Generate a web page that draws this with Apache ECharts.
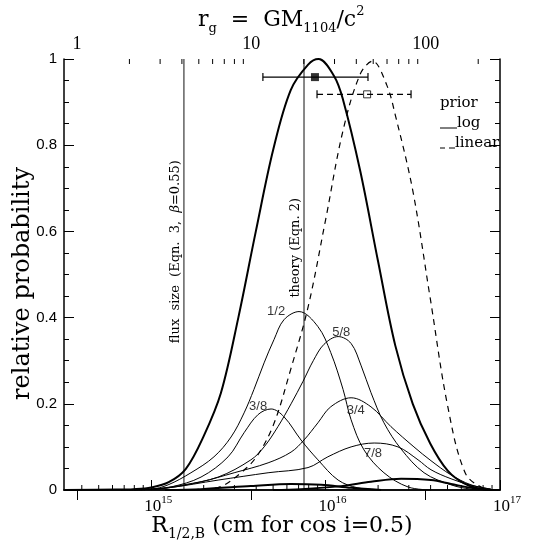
<!DOCTYPE html>
<html><head><meta charset="utf-8">
<script src="https://cdn.jsdelivr.net/npm/echarts@6/dist/echarts.min.js"></script>
<style>html,body{margin:0;padding:0;background:#fff}#c{width:558px;height:544px}</style>
</head><body><div id="c"></div>
<script>
// ---------- data ----------
const xMin = 3.1623e14, xMax = 1e17;           // R_1/2,B range (cm)
const rgUnit = 3.75e14;                          // cm per r_g on the top axis
const bottomMinor = [4e14,5e14,6e14,7e14,8e14,9e14,2e15,3e15,4e15,5e15,6e15,7e15,8e15,9e15,2e16,3e16,4e16,5e16,6e16,7e16,8e16,9e16];
const topMinor = [2,3,4,5,6,7,8,9,20,30,40,50,60,70,80,90,200];
const fluxR = 1.54e15;     // flux size (Eqn. 3)
const theoryR = 7.52e15;   // theory (Eqn. 2)

const logPrior = [[3.2e14,0],[6.3e14,0.001],[7.9e14,0.002],[1e15,0.006],[1.26e15,0.018],[1.58e15,0.049],[2e15,0.125],[2.51e15,0.225],[3.16e15,0.4],[3.98e15,0.6],[5.01e15,0.79],[6.31e15,0.928],[7.94e15,0.987],[9.1e15,1.0],[1.12e16,0.96],[1.26e16,0.905],[1.58e16,0.74],[2e16,0.53],[2.51e16,0.335],[3.16e16,0.2],[3.98e16,0.108],[5.01e16,0.045],[6.31e16,0.014],[7.94e16,0.002],[1e17,0]];
const linearPrior = [[1.5e15,0],[2e15,0.002],[2.51e15,0.008],[3.16e15,0.035],[3.98e15,0.075],[5.01e15,0.15],[6.31e15,0.28],[7.94e15,0.425],[1e16,0.627],[1.26e16,0.835],[1.58e16,0.965],[1.86e16,0.995],[2.24e16,0.94],[2.51e16,0.87],[3.16e16,0.695],[3.98e16,0.445],[5.01e16,0.195],[6.31e16,0.04],[7.94e16,0.005],[9.5e16,0]];
const f12 = [[6.7e14,0],[1e15,0.002],[1.25e15,0.012],[1.69e15,0.04],[2.29e15,0.077],[2.87e15,0.123],[3.41e15,0.179],[3.88e15,0.233],[4.44e15,0.295],[5.06e15,0.349],[5.77e15,0.395],[7.04e15,0.414],[9.04e15,0.379],[1.07e16,0.319],[1.26e16,0.233],[1.4e16,0.163],[1.66e16,0.093],[2.16e16,0.04],[2.97e16,0.007],[4.02e16,0]];
const f38 = [[6.7e14,0],[1e15,0.002],[1.3e15,0.007],[1.93e15,0.03],[2.76e15,0.077],[3.41e15,0.133],[4.1e15,0.175],[4.87e15,0.188],[5.77e15,0.17],[7.23e15,0.116],[9.04e15,0.07],[1.18e16,0.023],[1.53e16,0.005],[2.08e16,0]];
const f58 = [[1e15,0.001],[1.54e15,0.012],[2.42e15,0.03],[3.73e15,0.07],[4.44e15,0.1],[5.33e15,0.147],[6.34e15,0.2],[7.42e15,0.252],[8.5e15,0.3],[9.79e15,0.338],[1.18e16,0.356],[1.4e16,0.34],[1.6e16,0.288],[1.82e16,0.226],[2.16e16,0.156],[2.71e16,0.095],[3.67e16,0.04],[5.24e16,0.012],[6.82e16,0.002],[8.5e16,0]];
const f34 = [[8e14,0],[1.25e15,0.005],[1.93e15,0.019],[2.99e15,0.04],[4.68e15,0.063],[6.34e15,0.088],[7.52e15,0.116],[9.04e15,0.156],[1.07e16,0.193],[1.4e16,0.214],[1.82e16,0.193],[2.37e16,0.147],[3.21e16,0.1],[4.02e16,0.068],[5.24e16,0.035],[6.82e16,0.012],[8.88e16,0.002]];
const f78 = [[8e14,0],[1.25e15,0.005],[2.42e15,0.023],[4.68e15,0.04],[7.93e15,0.052],[1.03e16,0.077],[1.4e16,0.1],[1.9e16,0.109],[2.6e16,0.1],[3.39e16,0.07],[4.02e16,0.047],[5.24e16,0.026],[6.82e16,0.011],[8.88e16,0.002]];
const lowA = [[5e15,0],[7.23e15,0.002],[1.23e16,0.009],[1.82e16,0.019],[2.71e16,0.026],[4.02e16,0.023],[5.24e16,0.014],[6.82e16,0.005],[8.88e16,0]];
const lowB = [[1.2e15,0],[1.93e15,0.002],[3.73e15,0.009],[6.34e15,0.014],[9.42e15,0.012],[1.4e16,0.005],[2.08e16,0]];

const curveLabels = [[5.2e15,0.414,'1/2'],[4.1e15,0.193,'3/8'],[1.23e16,0.365,'5/8'],[1.49e16,0.184,'3/4'],[1.87e16,0.084,'7/8']];
const errLog = [[4.37e15,1.75e16,0.958]];
const errLin = [[8.93e15,3.09e16,0.918]];
const peakLog = [[8.69e15,0.958]];
const peakLin = [[1.73e16,0.918]];

// ---------- chart ----------
const serif = 'DejaVu Serif';
const tserif = 'Liberation Serif';
const sans = 'Liberation Sans';
const chart = echarts.init(document.getElementById('c'));

function isPow10(v){ const l=Math.log10(v); return Math.abs(l-Math.round(l))<0.01; }
function curve(data, width, dash, sm){
  return {type:'line', xAxisIndex:0, yAxisIndex:0, data, symbol:'none', smooth: sm || 0.35,
    lineStyle:{color:'#000', width, type: dash || 'solid'}, silent:true, z:3};
}
function vline(R){
  return {type:'line', xAxisIndex:0, yAxisIndex:0, data:[[R,0],[R,1]], symbol:'none',
    lineStyle:{color:'#555', width:1.4}, silent:true, z:2};
}
function errSeries(data, dash){
  return {type:'custom', xAxisIndex:0, yAxisIndex:0, data, silent:true, z:4,
    encode:{x:[0,1], y:2},
    renderItem(params, api){
      const lo = api.coord([api.value(0), api.value(2)]);
      const hi = api.coord([api.value(1), api.value(2)]);
      const st = {stroke:'#000', lineWidth:1.2, lineDash: dash ? [6,4] : null};
      const cs = {stroke:'#000', lineWidth:1.2};
      return {type:'group', children:[
        {type:'line', shape:{x1:lo[0],y1:lo[1],x2:hi[0],y2:hi[1]}, style:st},
        {type:'line', shape:{x1:lo[0],y1:lo[1]-4,x2:lo[0],y2:lo[1]+4}, style:cs},
        {type:'line', shape:{x1:hi[0],y1:hi[1]-4,x2:hi[0],y2:hi[1]+4}, style:cs}
      ]};
    }};
}
function tickSeries(values, axisIdx, atY, dir, len){
  return {type:'custom', xAxisIndex:axisIdx, yAxisIndex:0, data: values.map(v=>[v, atY]), silent:true, z:5,
    encode:{x:0, y:1},
    renderItem(params, api){
      const p = api.coord([api.value(0), api.value(1)]);
      return {type:'line', shape:{x1:p[0],y1:p[1],x2:p[0],y2:p[1]+dir*len}, style:{stroke:'#000', lineWidth:1}};
    }};
}

const axisLine = {show:true, lineStyle:{color:'#000', width:1.5}};
const option = {
  animation:false,
  backgroundColor:'#fff',
  title:{
    text:'{t|r}{ts|g}{t|  =  GM}{ts|1104}{t|/c}{tp|2}',
    left:193, top:0,
    textStyle:{rich:{
      t:{fontFamily:serif, fontSize:22, fontWeight:'normal', color:'#000', lineHeight:30},
      ts:{fontFamily:serif, fontSize:13, fontWeight:'normal', color:'#000', lineHeight:12, verticalAlign:'bottom'},
      tp:{fontFamily:serif, fontSize:13, fontWeight:'normal', color:'#000', lineHeight:20, verticalAlign:'top'}
    }}
  },
  grid:{left:64, right:58, top:59, bottom:54, outerBoundsMode:'none'},
  xAxis:[
    {type:'log', min:xMin, max:xMax, position:'bottom', axisLine,
     axisTick:{inside:true, length:10, lineStyle:{color:'#000', width:1}},
     splitLine:{show:false}, minorTick:{show:false},
     axisLabel:{margin:5, showMinLabel:false, padding:[0,0,0,14], formatter:v=> isPow10(v) ? '{b|10}{s|'+Math.round(Math.log10(v))+'}' : '',
       rich:{b:{fontFamily:tserif, fontSize:17, color:'#000', lineHeight:20, verticalAlign:'bottom'}, s:{fontFamily:tserif, fontSize:11, color:'#000', lineHeight:12, verticalAlign:'top'}}},
     name:'{r|R}{s|1/2,B}{r| (cm for cos i=0.5)}', nameLocation:'middle', nameGap:21, nameMoveOverlap:false,
     nameTextStyle:{rich:{r:{fontFamily:serif, fontSize:22, color:'#000', lineHeight:30}, s:{fontFamily:serif, fontSize:14, color:'#000', lineHeight:13, verticalAlign:'bottom'}}}
    },
    {type:'log', min:xMin/rgUnit, max:xMax/rgUnit, position:'top', axisLine,
     axisTick:{inside:true, length:10, lineStyle:{color:'#000', width:1}},
     splitLine:{show:false},
     axisLabel:{margin:6, showMinLabel:false, showMaxLabel:false, fontFamily:tserif, fontSize:18, color:'#000',
       formatter:v=> isPow10(v) ? String(Math.round(v)) : ''}
    }
  ],
  yAxis:[
    {type:'value', min:0, max:1, interval:0.2, position:'left', axisLine,
     axisTick:{inside:true, length:10, lineStyle:{color:'#000', width:1}},
     minorTick:{show:true, splitNumber:4, length:5, lineStyle:{color:'#000', width:1}},
     splitLine:{show:false}, minorSplitLine:{show:false},
     axisLabel:{margin:7, fontFamily:sans, fontSize:15, color:'#000'},
     name:'relative probability', nameLocation:'middle', nameGap:29, nameRotate:90, nameMoveOverlap:false,
     nameTextStyle:{fontFamily:serif, fontSize:24, color:'#000', padding:[0,18,0,0]}
    },
    {type:'value', min:0, max:1, interval:0.2, position:'right', axisLine,
     axisTick:{inside:true, length:10, lineStyle:{color:'#000', width:1}},
     minorTick:{show:true, splitNumber:4, length:5, lineStyle:{color:'#000', width:1}},
     splitLine:{show:false}, axisLabel:{show:false}
    }
  ],
  series:[
    vline(fluxR), vline(theoryR),
    curve(logPrior, 2, null, 0.35),
    curve(linearPrior, 1.2, [6,5], 0.35),
    curve(f12, 1), curve(f38, 1), curve(f58, 1), curve(f34, 1), curve(f78, 1),
    curve(lowA, 2), curve(lowB, 2),
    errSeries(errLog, false), errSeries(errLin, true),
    {type:'scatter', xAxisIndex:0, yAxisIndex:0, data:peakLog, symbol:'rect', symbolSize:8, itemStyle:{color:'#000'}, silent:true, z:6},
    {type:'scatter', xAxisIndex:0, yAxisIndex:0, data:peakLin, symbol:'rect', symbolSize:7, itemStyle:{color:'rgba(0,0,0,0)', borderColor:'#000', borderWidth:1}, silent:true, z:6},
    {type:'scatter', xAxisIndex:0, yAxisIndex:0, data:curveLabels, symbolSize:1, itemStyle:{color:'rgba(0,0,0,0)'}, silent:true, z:7,
     label:{show:true, position:'inside', formatter:p=>p.value[2], fontFamily:sans, fontSize:13, color:'#000'}},
    tickSeries(bottomMinor, 0, 0, -1, 5),
    tickSeries(topMinor, 1, 1, 1, 5)
  ]
};
chart.setOption(option);

// rotated annotation texts and the prior key
const pf = chart.convertToPixel({xAxisIndex:0, yAxisIndex:0}, [fluxR, 0.553]);
const pt = chart.convertToPixel({xAxisIndex:0, yAxisIndex:0}, [theoryR, 0.562]);
chart.setOption({graphic:[
  {type:'text', x:pf[0]-8, y:pf[1], rotation:Math.PI/2,
   style:{text:'flux  size  (Eqn.  3,  {i|β}=0.55)', fontFamily:serif, fontSize:13, fill:'#000', align:'center', verticalAlign:'middle',
     rich:{i:{fontFamily:serif, fontSize:13, fontStyle:'italic', fill:'#000'}}}},
  {type:'text', x:pt[0]-8, y:pt[1], rotation:Math.PI/2,
   style:{text:'theory (Eqn. 2)', fontFamily:serif, fontSize:13, fill:'#000', align:'center', verticalAlign:'middle'}},
  {type:'text', x:440, y:103, style:{text:'prior', fontFamily:serif, fontSize:15, fill:'#000', verticalAlign:'middle'}},
  {type:'line', shape:{x1:440,y1:128,x2:457,y2:128}, style:{stroke:'#000', lineWidth:1}},
  {type:'text', x:457, y:123, style:{text:'log', fontFamily:serif, fontSize:15, fill:'#000', verticalAlign:'middle'}},
  {type:'line', shape:{x1:440,y1:148,x2:445,y2:148}, style:{stroke:'#000', lineWidth:1}},
  {type:'line', shape:{x1:449,y1:148,x2:455,y2:148}, style:{stroke:'#000', lineWidth:1}},
  {type:'text', x:455, y:143, style:{text:'linear', fontFamily:serif, fontSize:15, fill:'#000', verticalAlign:'middle'}}
]});
</script></body></html>
